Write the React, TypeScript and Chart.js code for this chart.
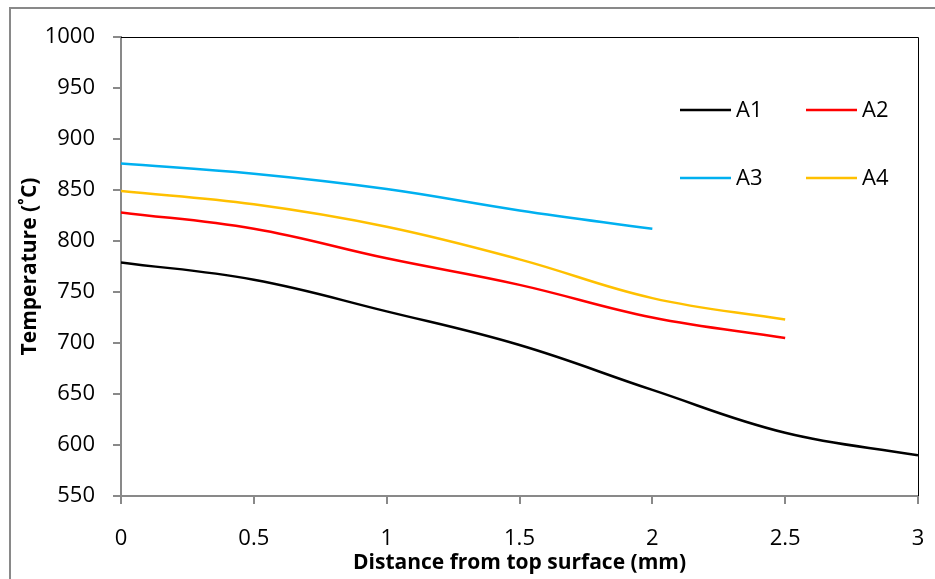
import React, { useEffect, useRef } from "react";
import { Chart, registerables } from "chart.js";

Chart.register(...registerables);

const xValues = [0, 0.5, 1, 1.5, 2, 2.5, 3];
const seriesNames = ["A1", "A2", "A3", "A4"];
const seriesColors = ["#000000", "#FF0000", "#00B0F0", "#FFC000"];
const a1 = [779, 762, 731, 698, 654, 612, 590];
const a2 = [828, 812, 783, 757, 725, 705];
const a3 = [876, 866, 851, 830, 812];
const a4 = [849, 836, 814, 782, 744, 723];
const yTicks = [550, 600, 650, 700, 750, 800, 850, 900, 950, 1000];
const xTitle = "Distance from top surface (mm)";
const yTitle = "Temperature (˚C)";

const FONT = "'Open Sans', 'Liberation Sans', sans-serif";
const GREY = "#898989";

const toPoints = (ys: number[]) => ys.map((y, i) => ({ x: xValues[i], y }));

const framePlugin = {
  id: "frame",
  beforeDraw(chart: any) {
    const ctx = chart.ctx;
    ctx.save();
    ctx.fillStyle = "#ffffff";
    ctx.fillRect(0, 0, chart.width, chart.height);
    ctx.strokeStyle = GREY;
    ctx.lineWidth = 2;
    ctx.beginPath();
    ctx.moveTo(10, chart.height);
    ctx.lineTo(10, 8);
    ctx.lineTo(chart.width, 8);
    ctx.stroke();
    ctx.restore();
  },
  afterDraw(chart: any) {
    const { ctx, chartArea } = chart;
    ctx.save();
    ctx.strokeStyle = "#000000";
    ctx.lineWidth = 1;
    ctx.beginPath();
    ctx.moveTo(chartArea.left, chartArea.top + 0.5);
    ctx.lineTo(chartArea.right + 0.5, chartArea.top + 0.5);
    ctx.lineTo(chartArea.right + 0.5, chartArea.bottom);
    ctx.stroke();

    // legend (2 columns)
    const colX = [680, 806];
    const rowY = [110, 178];
    const lineLen = 51;
    ctx.font = `22px ${FONT}`;
    ctx.textBaseline = "middle";
    ctx.textAlign = "left";
    chart.data.datasets.forEach((ds: any, i: number) => {
      const cx = colX[i % 2];
      const cy = rowY[Math.floor(i / 2)];
      ctx.strokeStyle = ds.borderColor;
      ctx.lineWidth = 2.5;
      ctx.beginPath();
      ctx.moveTo(cx, cy);
      ctx.lineTo(cx + lineLen, cy);
      ctx.stroke();
      ctx.fillStyle = "#000000";
      ctx.fillText(ds.label, cx + lineLen + 5, cy + 1);
    });
    ctx.restore();
  },
};

export default function App() {
  const ref = useRef<HTMLCanvasElement>(null);
  useEffect(() => {
    if (!ref.current) return;
    const data = [a1, a2, a3, a4];
    const chart = new Chart(ref.current, {
      type: "line",
      data: {
        datasets: seriesNames.map((name, i) => ({
          label: name,
          data: toPoints(data[i]),
          borderColor: seriesColors[i],
          backgroundColor: seriesColors[i],
          borderWidth: 2.5,
          pointRadius: 0,
          tension: 0.4,
          fill: false,
        })),
      },
      options: {
        responsive: false,
        animation: false,
        layout: { padding: { left: 9, top: 37, right: 17, bottom: 0 } },
        plugins: {
          legend: { display: false },
          tooltip: { enabled: false },
        },
        scales: {
          x: {
            type: "linear",
            min: 0,
            max: 3,
            afterBuildTicks: (scale: any) => {
              scale.ticks = xValues.map((v) => ({ value: v }));
            },
            afterFit: (scale: any) => {
              scale.height = 83;
              scale.paddingLeft = 0;
              scale.paddingRight = 0;
            },
            border: { color: GREY, width: 2 },
            grid: {
              display: true,
              drawOnChartArea: false,
              drawTicks: true,
              tickLength: 8,
              color: GREY,
              lineWidth: 2,
            },
            ticks: {
              font: { family: FONT, size: 22 },
              color: "#000000",
              padding: 22,
              maxRotation: 0,
              callback: (v: any) => String(v),
            },
            title: {
              display: true,
              text: xTitle,
              font: { family: FONT, size: 21, weight: "bold" },
              color: "#000000",
              padding: { top: 0, bottom: 3 },
            },
          },
          y: {
            type: "linear",
            min: 550,
            max: 1000,
            afterBuildTicks: (scale: any) => {
              scale.ticks = yTicks.map((v) => ({ value: v }));
            },
            afterFit: (scale: any) => {
              scale.width = 112;
            },
            border: { color: GREY, width: 2 },
            grid: {
              display: true,
              drawOnChartArea: false,
              drawTicks: true,
              tickLength: 8,
              color: GREY,
              lineWidth: 2,
            },
            ticks: {
              font: { family: FONT, size: 22 },
              color: "#000000",
              padding: 18,
              callback: (v: any) => String(v),
            },
            title: {
              display: true,
              text: yTitle,
              font: { family: FONT, size: 21, weight: "bold" },
              color: "#000000",
              padding: { top: 8, bottom: 0 },
            },
          },
        },
      },
      plugins: [framePlugin],
    });
    return () => chart.destroy();
  }, []);
  return (
    <div style={{ position: "absolute", left: 0, top: 0, width: 935, height: 579, background: "#fff" }}>
      <canvas ref={ref} width={935} height={579} style={{ display: "block" }} />
    </div>
  );
}
